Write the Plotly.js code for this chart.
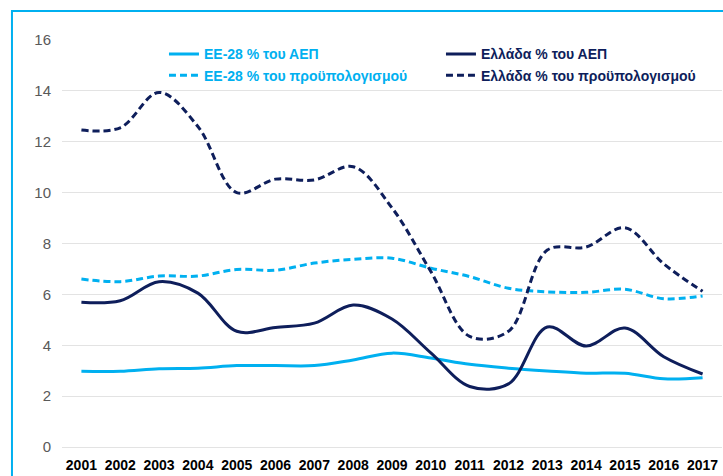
<!DOCTYPE html>
<html>
<head>
<meta charset="utf-8">
<script src="https://cdn.plot.ly/plotly-3.0.1.min.js"></script>
<style>html,body{margin:0;padding:0;background:#fff;}#chart{width:723px;height:476px;}</style>
</head>
<body>
<div id="chart"></div>
<script>
const years = ['2001','2002','2003','2004','2005','2006','2007','2008','2009','2010','2011','2012','2013','2014','2015','2016','2017'];
const euGdp    = [2.98, 2.98, 3.08, 3.10, 3.20, 3.20, 3.20, 3.42, 3.69, 3.50, 3.25, 3.10, 2.99, 2.90, 2.90, 2.68, 2.72];
const grGdp    = [5.69, 5.75, 6.50, 6.05, 4.55, 4.70, 4.87, 5.58, 5.03, 3.70, 2.38, 2.48, 4.72, 3.97, 4.68, 3.55, 2.87];
const euBudget = [6.60, 6.50, 6.72, 6.72, 6.98, 6.95, 7.23, 7.38, 7.42, 7.03, 6.70, 6.24, 6.10, 6.08, 6.20, 5.83, 5.94];
const grBudget = [12.46, 12.55, 13.94, 12.60, 10.00, 10.53, 10.50, 11.02, 9.40, 6.90, 4.35, 4.55, 7.74, 7.86, 8.62, 7.20, 6.12];
const yTicks = [0, 2, 4, 6, 8, 10, 12, 14, 16];

const LIGHT = '#00B0F0';
const DARK = '#0E1E5B';

function tr(y, name, color, dash) {
  return {
    x: years, y: y, type: 'scatter', mode: 'lines',
    name: '<span style="color:' + color + '">' + name + '</span>',
    line: {color: color, width: 3, shape: 'spline', smoothing: 1, dash: dash},
    hoverinfo: 'skip'
  };
}

const data = [
  tr(euGdp, 'ΕΕ-28 % του ΑΕΠ', LIGHT, 'solid'),
  tr(grGdp, 'Ελλάδα % του ΑΕΠ', DARK, 'solid'),
  tr(euBudget, 'ΕΕ-28 % του προϋπολογισμού', LIGHT, '7px,4px'),
  tr(grBudget, 'Ελλάδα % του προϋπολογισμού', DARK, '7px,4px')
];

const layout = {
  width: 723, height: 476,
  margin: {l: 62, r: 1, t: 40, b: 29, autoexpand: false},
  paper_bgcolor: '#fff', plot_bgcolor: '#fff',
  font: {family: 'Liberation Sans, Arial, sans-serif'},
  showlegend: true,
  legend: {
    orientation: 'h', x: 0.1545, xanchor: 'left', y: 1.004, yanchor: 'top',
    entrywidth: 232, entrywidthmode: 'pixels',
    font: {size: 14, weight: 'bold', family: 'Liberation Sans, Arial, sans-serif'},
    bgcolor: 'rgba(0,0,0,0)', traceorder: 'normal'
  },
  xaxis: {
    type: 'category', range: [-0.5, 16.5], showgrid: false, zeroline: false,
    showline: false, ticks: '', ticklabelstandoff: 8,
    tickfont: {size: 14, color: '#000', weight: 'bold'}
  },
  yaxis: {
    range: [0, 16], tickvals: yTicks, showgrid: true, gridcolor: '#E3E3E3', gridwidth: 1,
    zeroline: true, zerolinecolor: '#E3E3E3', zerolinewidth: 1, showline: false, ticks: '',
    ticklabelstandoff: 10, tickfont: {size: 15, color: '#595959'}
  },
  shapes: [{
    type: 'rect', xref: 'paper', yref: 'paper',
    x0: -0.0758, x1: 1.2, y0: -0.3, y1: 1.0713,
    line: {color: LIGHT, width: 2}, fillcolor: 'rgba(0,0,0,0)', layer: 'below'
  }]
};

Plotly.newPlot('chart', data, layout, {staticPlot: true, displayModeBar: false});
</script>
</body>
</html>
